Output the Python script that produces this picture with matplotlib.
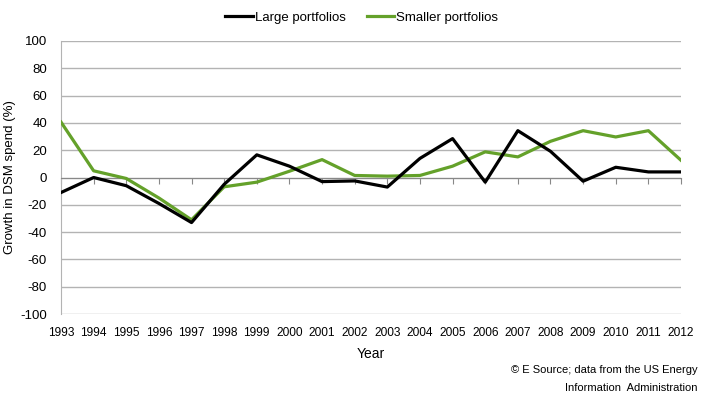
import matplotlib
matplotlib.use("Agg")
import matplotlib.pyplot as plt
from matplotlib import font_manager

years = list(range(1993, 2013))
large = [-11, 0, -6, -19, -33, -5, 16.6, 8.3, -3, -2.5, -7, 14, 28.5, -3.4, 34.3, 19.2, -2.7, 7.5, 4.1, 4.1]
smaller = [40.6, 4.9, -0.7, -15, -31, -6.8, -3.4, 4.6, 13.1, 1.5, 1, 1.5, 8.3, 18.8, 15.1, 26.5, 34.3, 29.7, 34.3, 12.6]

names = {f.name for f in font_manager.fontManager.ttflist}
fam = 'Liberation Sans Narrow' if 'Liberation Sans Narrow' in names else 'Liberation Sans'
plt.rcParams['font.family'] = [fam, 'DejaVu Sans']
plt.rcParams['font.size'] = 10
plt.rcParams['axes.unicode_minus'] = False

fig = plt.figure(figsize=(7.02, 3.98), dpi=100)
ax = fig.add_axes([0.0869, 0.211, 0.8832, 0.686])

grid_c = '#b3b3b3'
ax.plot(years, large, color='black', lw=2.3, label='Large portfolios', zorder=4)
ax.plot(years, smaller, color='#64a12a', lw=2.3, label='Smaller portfolios', zorder=3)

ax.set_xlim(1993, 2012)
ax.set_ylim(-100, 100)
ax.set_yticks(range(-100, 101, 20))
ax.yaxis.grid(True, color=grid_c, lw=1)
ax.set_axisbelow(True)
ax.tick_params(axis='y', length=0, pad=10, labelsize=9.5)

for s in ['top', 'right']:
    ax.spines[s].set_visible(False)
ax.spines['left'].set_color(grid_c)
ax.spines['bottom'].set_position(('data', 0))
ax.spines['bottom'].set_color('#888888')
ax.set_xticks(years)
ax.tick_params(axis='x', direction='out', length=4, color='#888888', labelbottom=False)

sec = ax.secondary_xaxis('bottom')
sec.set_xticks(years)
sec.set_xticklabels([str(y) for y in years], fontsize=8.6)
sec.tick_params(length=0, pad=9)
sec.spines['bottom'].set_visible(False)
sec.set_xlabel('Year', fontsize=10, labelpad=6)

ax.set_ylabel('Growth in DSM spend (%)', fontsize=9.5, labelpad=3)

fig.legend(loc='upper center', bbox_to_anchor=(0.515, 1.0), ncol=2, frameon=False,
           fontsize=9.5, handlelength=2.1, handletextpad=0.15, columnspacing=1.6)

fig.text(0.994, 0.07, '© E Source; data from the US Energy', ha='right', va='center', fontsize=8)
fig.text(0.994, 0.025, 'Information  Administration', ha='right', va='center', fontsize=8)

fig.savefig('out.png', dpi=100)
